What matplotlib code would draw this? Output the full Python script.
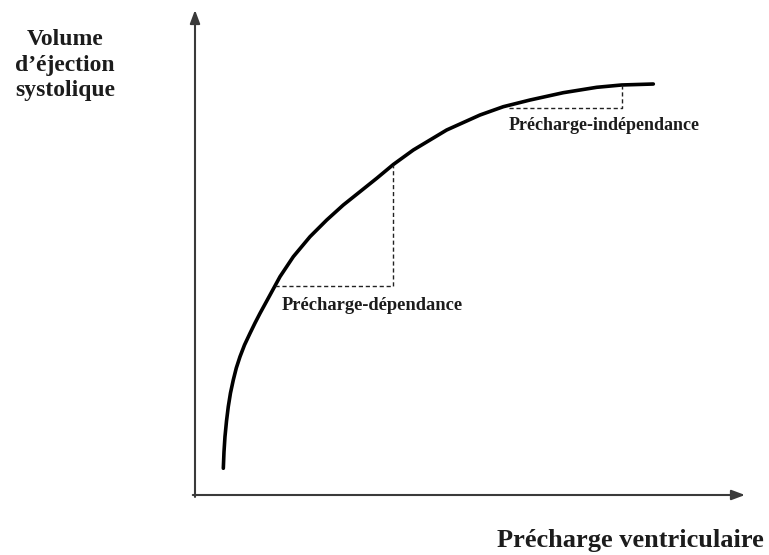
import matplotlib
matplotlib.use("Agg")
import matplotlib.pyplot as plt

# Curve: preload (x) vs stroke volume (y), arbitrary units 0-100
preload = [5.15, 5.27, 5.45, 5.73, 6.05, 6.45, 6.96, 7.51, 8.18, 9.0, 10.0, 10.91, 11.82, 13.64, 15.45,
           17.87, 20.91, 23.95, 26.96, 30.0, 33.04, 36.05, 39.69, 45.76, 51.82, 56.05, 60.91, 66.96,
           73.04, 77.58, 83.33]
stroke_volume = [5.51, 8.87, 12.02, 15.26, 18.21, 21.03, 23.71, 26.19, 28.52, 30.93, 33.34, 35.46, 37.46,
                 41.24, 45.01, 49.13, 53.26, 56.70, 59.79, 62.54, 65.30, 68.14, 71.13, 75.26, 78.35,
                 80.06, 81.44, 82.95, 84.06, 84.54, 84.74]

# Preload-dependent zone (dashed)
dep_x = [14.55, 36.05, 36.05]
dep_y = [43.09, 43.09, 68.14]
# Preload-independent zone (dashed)
indep_x = [57.0, 77.58, 77.58]
indep_y = [79.8, 79.8, 84.54]

W, H = 769, 555
fig = plt.figure(figsize=(W / 100, H / 100), dpi=100)
ax = fig.add_axes([195 / W, (H - 495) / H, 550 / W, 485 / H])
ax.set_xlim(0, 100)
ax.set_ylim(0, 100)
ax.axis("off")

axis_col = "#3a3a3a"
ax.annotate("", xy=(1.0, 0), xytext=(-0.004, 0), xycoords="axes fraction",
            arrowprops=dict(arrowstyle="-|>,head_length=0.8,head_width=0.3", color=axis_col, lw=1.5,
                            shrinkA=0, shrinkB=0), annotation_clip=False)
ax.annotate("", xy=(0, 1.0), xytext=(0, -0.004), xycoords="axes fraction",
            arrowprops=dict(arrowstyle="-|>,head_length=0.8,head_width=0.3", color=axis_col, lw=1.5,
                            shrinkA=0, shrinkB=0), annotation_clip=False)

ax.plot(preload, stroke_volume, color="black", lw=2.6, solid_capstyle="round",
        solid_joinstyle="round", clip_on=False)
ax.plot(dep_x, dep_y, color="#222222", lw=1.0, ls=(0, (3, 2)))
ax.plot(indep_x, indep_y, color="#222222", lw=1.0, ls=(0, (3, 2)))

serif = ["Liberation Serif", "DejaVu Serif"]
tc = "#1c1c1c"
ax.text(32.2, 39.0, "Précharge-dépendance", ha="center", va="center", fontsize=13.3,
        fontweight="bold", family=serif, color=tc)
ax.text(74.3, 76.2, "Précharge-indépendance", ha="center", va="center", fontsize=13,
        fontweight="bold", family=serif, color=tc)

fig.text(65 / W, 1 - 65 / H, "Volume\nd’éjection\nsystolique", ha="center", va="center",
         fontsize=17, fontweight="bold", family=serif, color=tc, linespacing=1.27)
fig.text(630 / W, 1 - 540 / H, "Précharge ventriculaire", ha="center", va="center",
         fontsize=19, fontweight="bold", family=serif, color=tc)

fig.savefig("out.png", dpi=100)
